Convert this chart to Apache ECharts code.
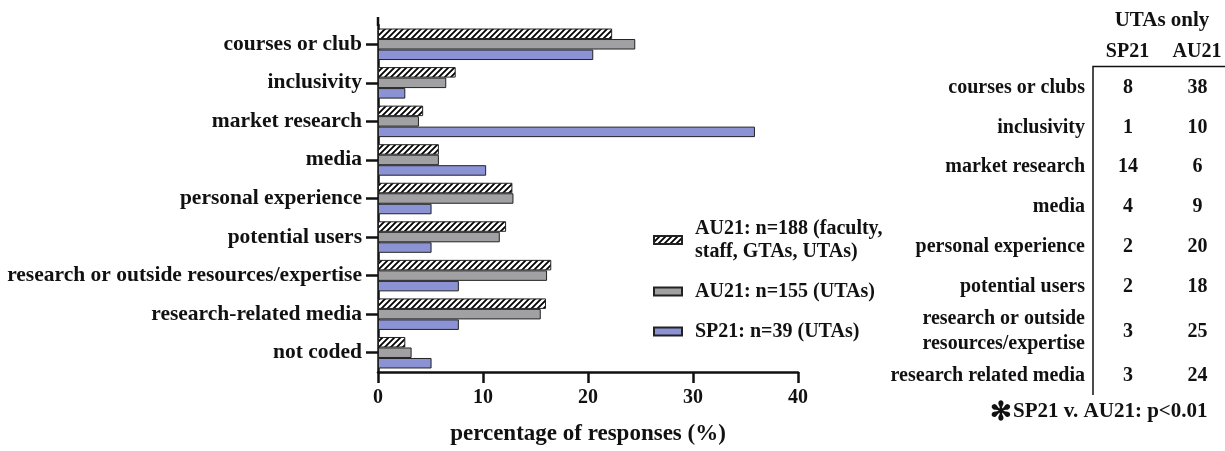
<!DOCTYPE html>
<html>
<head>
<meta charset="utf-8">
<script src="https://cdn.jsdelivr.net/npm/echarts@6/dist/echarts.min.js"></script>
<style>
  html, body { margin: 0; padding: 0; background: #fff; }
  #chart { width: 1225px; height: 451px; }
</style>
</head>
<body>
<div id="chart"></div>
<script>
// categories, top to bottom
const categories = [
  'courses or club', 'inclusivity', 'market research', 'media',
  'personal experience', 'potential users',
  'research or outside resources/expertise', 'research-related media', 'not coded'
];
// percentage of responses (%)
const au21All = [22.3, 7.4, 4.3, 5.8, 12.8, 12.2, 16.5, 16.0, 2.6];
const au21Utas = [24.5, 6.5, 3.9, 5.8, 12.9, 11.6, 16.1, 15.5, 3.2];
const sp21Utas = [20.5, 2.6, 35.9, 10.3, 5.1, 5.1, 7.7, 7.7, 5.1];
const seriesNames = [
  'AU21: n=188 (faculty,\nstaff, GTAs, UTAs)',
  'AU21: n=155 (UTAs)',
  'SP21: n=39 (UTAs)'
];
const xTicks = [0, 10, 20, 30, 40];

// side table: UTAs only counts
const tableRows = [
  'courses or clubs', 'inclusivity', 'market research', 'media',
  'personal experience', 'potential users',
  'research or outside\nresources/expertise', 'research related media'
];
const sp21Counts = [8, 1, 14, 4, 2, 2, 3, 3];
const au21Counts = [38, 10, 6, 9, 20, 18, 25, 24];

const FONT = '"Liberation Serif", "Times New Roman", serif';
const DARK = '#111';

// diagonal hatch
function hatch() {
  const c = document.createElement('canvas');
  c.width = 6; c.height = 6;
  const ctx = c.getContext('2d');
  ctx.fillStyle = '#fff';
  ctx.fillRect(0, 0, 6, 6);
  ctx.strokeStyle = '#000';
  ctx.lineWidth = 1.8;
  ctx.beginPath();
  ctx.moveTo(-1, 7); ctx.lineTo(7, -1);
  ctx.moveTo(-1, 1); ctx.lineTo(1, -1);
  ctx.moveTo(5, 7); ctx.lineTo(7, 5);
  ctx.stroke();
  return c;
}

const chart = echarts.init(document.getElementById('chart'), null, { renderer: 'canvas' });

// table graphics
const tableGraphic = [];
const rowY = [88, 127.5, 167, 207, 247, 286.5, 331.5, 376];
const txt = (x, y, text, align, size) => ({
  type: 'text', x, y,
  style: {
    text, x: 0, y: 0, align: align, verticalAlign: 'middle',
    font: 'bold ' + (size || 20) + 'px ' + FONT, fill: DARK, lineHeight: 25
  }
});
tableGraphic.push(txt(1162, 21, 'UTAs only', 'center', 21));
tableGraphic.push(txt(1127.5, 52, 'SP21', 'center'));
tableGraphic.push(txt(1197, 52, 'AU21', 'center'));
tableRows.forEach((r, i) => {
  tableGraphic.push(txt(1085, rowY[i], r, 'right'));
  tableGraphic.push(txt(1128, rowY[i], String(sp21Counts[i]), 'center'));
  tableGraphic.push(txt(1197.5, rowY[i], String(au21Counts[i]), 'center'));
});
tableGraphic.push({
  type: 'polyline',
  shape: { points: [[1093, 395], [1093, 66.5], [1225, 66.5]] },
  style: { stroke: DARK, lineWidth: 1.5, fill: null }
});
tableGraphic.push(txt(1001, 413, '\u273B', 'center', 26));
tableGraphic.push(txt(1013, 412, 'SP21 v. AU21: p<0.01', 'left', 21));
// y axis line runs a little above the first band
tableGraphic.push({
  type: 'line',
  shape: { x1: 378, y1: 17, x2: 378, y2: 26 },
  style: { stroke: DARK, lineWidth: 2.5 }
});

const barBorder = { borderColor: '#222', borderWidth: 1 };

chart.setOption({
  backgroundColor: '#fff',
  animation: false,
  grid: { left: 378, top: 25, width: 420, bottom: 78 },
  legend: {
    orient: 'vertical',
    left: 648,
    top: 212,
    icon: 'rect',
    itemWidth: 28,
    itemHeight: 8,
    itemGap: 17,
    selectedMode: false,
    textStyle: {
      fontFamily: FONT, fontWeight: 'bold', fontSize: 20, color: DARK,
      lineHeight: 23, padding: [0, 0, 0, 8]
    },
    data: seriesNames
  },
  xAxis: {
    type: 'value',
    min: xTicks[0],
    max: xTicks[xTicks.length - 1],
    interval: 10,
    name: 'percentage of responses (%)',
    nameLocation: 'middle',
    nameGap: 51,
    nameTextStyle: { fontFamily: FONT, fontWeight: 'bold', fontSize: 23, color: DARK },
    splitLine: { show: false },
    axisLine: { show: true, lineStyle: { color: DARK, width: 2.5 } },
    axisTick: { show: true, length: 11, lineStyle: { color: DARK, width: 2.5 } },
    axisLabel: { margin: 16, fontFamily: FONT, fontWeight: 'bold', fontSize: 20, color: DARK }
  },
  yAxis: {
    type: 'category',
    inverse: true,
    data: categories,
    axisLine: { show: true, lineStyle: { color: DARK, width: 2.5 } },
    axisTick: { show: true, alignWithLabel: true, length: 12, lineStyle: { color: DARK, width: 2.5 } },
    axisLabel: { margin: 16, fontFamily: FONT, fontWeight: 'bold', fontSize: 21.5, color: DARK }
  },
  series: [
    {
      name: seriesNames[0], type: 'bar', data: au21All,
      barWidth: 10.5, barGap: '0%',
      itemStyle: Object.assign({ color: { image: hatch(), repeat: 'repeat' } }, barBorder)
    },
    {
      name: seriesNames[1], type: 'bar', data: au21Utas,
      barWidth: 10.5, barGap: '0%',
      itemStyle: Object.assign({ color: '#a1a1a3' }, barBorder)
    },
    {
      name: seriesNames[2], type: 'bar', data: sp21Utas,
      barWidth: 10.5, barGap: '0%',
      itemStyle: Object.assign({ color: '#8c93d5' }, barBorder)
    }
  ],
  graphic: tableGraphic
});
</script>
</body>
</html>
